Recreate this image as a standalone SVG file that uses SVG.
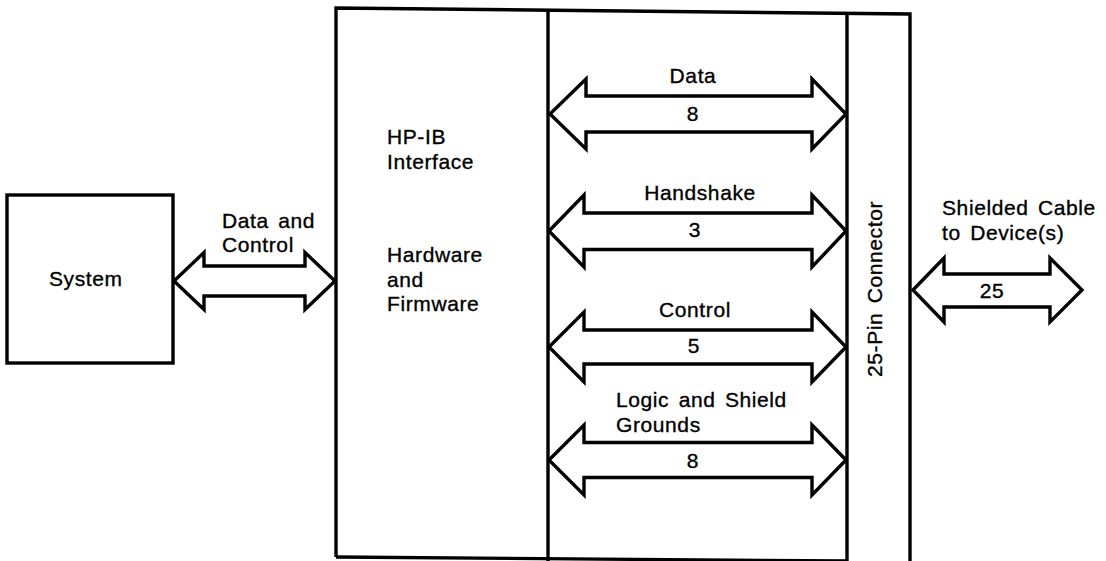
<svg xmlns="http://www.w3.org/2000/svg" width="1106" height="561" viewBox="0 0 1106 561">
<style>
.ln{fill:none;stroke:#000;stroke-width:3.4;stroke-linejoin:miter}
.ar{fill:#fff;stroke:#000;stroke-width:3.4;stroke-linejoin:miter}
text{font-family:"Liberation Sans",Arial,sans-serif;font-size:21px;fill:#000;stroke:#000;stroke-width:0.35px;letter-spacing:0.6px;word-spacing:3px}
.c{text-anchor:middle}
</style>
<rect width="1106" height="561" fill="#fff"/>
<g id="system">
<rect class="ln" x="7" y="195" width="166" height="168"/>
<text x="49" y="286">System</text>
</g>
<g id="interface">
<path class="ln" d="M336,557 L336,8 L910,14 L910,561"/>
<line class="ln" x1="336" y1="557" x2="848" y2="561"/>
<line class="ln" x1="548" y1="11" x2="548" y2="561"/>
<text x="387" y="144">HP-IB</text>
<text x="387" y="169">Interface</text>
<text x="387" y="262">Hardware</text>
<text x="387" y="287">and</text>
<text x="387" y="311">Firmware</text>
</g>
<g id="connector">
<line class="ln" x1="847" y1="13" x2="847" y2="561"/>
<text class="c" transform="translate(882,289) rotate(-90)">25-Pin Connector</text>
</g>
<g id="connectors">
<path class="ar" d="M174,281 L204,252.5 L204,266 L305,266 L305,252.5 L335,281 L305,309.5 L305,296 L204,296 L204,309.5 Z"/>
<text x="222" y="228">Data and</text>
<text x="222" y="252">Control</text>

<path class="ar" d="M550,114 L586,79 L586,96 L812,96 L812,79 L846,114 L812,149 L812,132 L586,132 L586,149 Z"/>
<text class="c" x="693" y="83">Data</text>
<text class="c" x="693" y="121">8</text>

<path class="ar" d="M549,231 L584,195 L584,213 L812,213 L812,195 L846,231 L812,267 L812,249.5 L584,249.5 L584,267 Z"/>
<text class="c" x="700" y="200">Handshake</text>
<text class="c" x="695" y="237">3</text>

<path class="ar" d="M549,347 L584,312 L584,330 L812,330 L812,312 L846,347 L812,382 L812,364 L584,364 L584,382 Z"/>
<text class="c" x="695" y="317">Control</text>
<text class="c" x="694" y="353">5</text>

<path class="ar" d="M549,460 L584,425 L584,442.5 L812,442.5 L812,425 L846,460 L812,495 L812,477.5 L584,477.5 L584,495 Z"/>
<text x="616" y="407">Logic and Shield</text>
<text x="616" y="432">Grounds</text>
<text class="c" x="693" y="468">8</text>

<path class="ar" d="M913,290 L944,258 L944,274 L1050,274 L1050,258 L1082,290 L1050,322 L1050,307 L944,307 L944,322 Z"/>
<text x="942" y="215">Shielded Cable</text>
<text x="942" y="240">to Device(s)</text>
<text class="c" x="992" y="298">25</text>
</g>
</svg>
